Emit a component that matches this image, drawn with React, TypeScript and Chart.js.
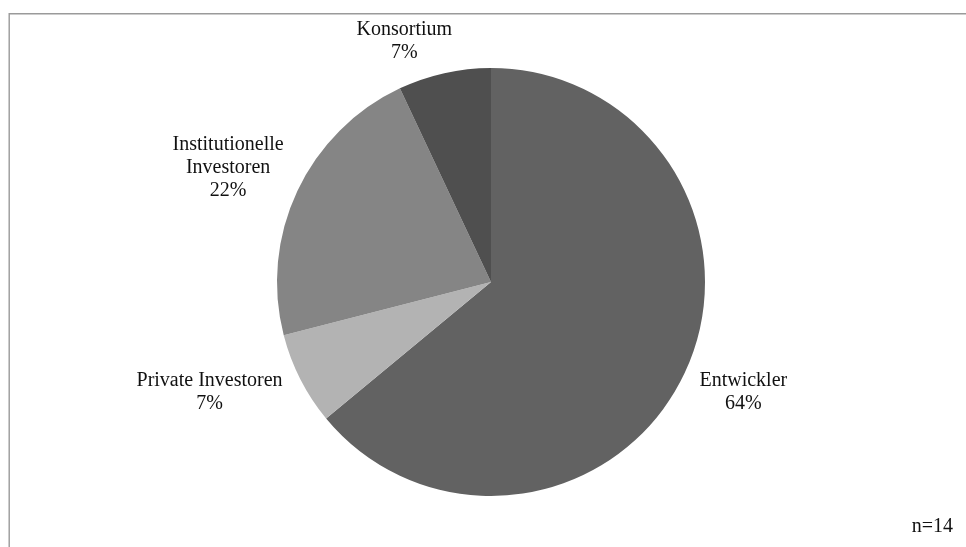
import React, { useEffect, useRef } from "react";
import { Chart, registerables } from "chart.js";

Chart.register(...registerables);

// Who carries the projects (share of respondents, n = 14)
const CATEGORIES: string[][] = [
  ["Entwickler"],
  ["Private Investoren"],
  ["Institutionelle", "Investoren"],
  ["Konsortium"],
];
const SHARES: number[] = [64, 7, 22, 7];
const SAMPLE_NOTE = "n=14";

const SLICE_COLORS = ["#626262", "#b3b3b3", "#858585", "#4f4f4f"];
const FONT = '20px "Liberation Serif", "Times New Roman", serif';
const LINE_HEIGHT = 23;
// Gap of the label block from the pie centre (along the slice bisector)
const LABEL_DISTANCE = 235;
// Small hand adjustments so labels do not crowd the pie
const LABEL_NUDGE: [number, number][] = [
  [0, 0],
  [-7, -7],
  [0, 0],
  [-25, 11],
];

const framePlugin = {
  id: "frame",
  beforeDraw(chart: Chart) {
    const ctx = chart.ctx;
    ctx.save();
    ctx.strokeStyle = "#9a9a9a";
    ctx.lineWidth = 1.4;
    ctx.beginPath();
    ctx.moveTo(9.2, chart.height + 2);
    ctx.lineTo(9.2, 13.8);
    ctx.lineTo(chart.width + 2, 13.8);
    ctx.stroke();
    ctx.restore();
  },
};

const labelPlugin = {
  id: "sliceLabels",
  afterDatasetsDraw(chart: Chart) {
    const ctx = chart.ctx;
    const meta = chart.getDatasetMeta(0);
    ctx.save();
    ctx.font = FONT;
    ctx.fillStyle = "#111";
    ctx.textAlign = "center";
    ctx.textBaseline = "middle";
    meta.data.forEach((el: any, i: number) => {
      const { x, y, startAngle, endAngle } = el.getProps(
        ["x", "y", "startAngle", "endAngle"],
        true
      );
      const mid = (startAngle + endAngle) / 2;
      const lines = [...CATEGORIES[i], `${SHARES[i]}%`];
      const w = Math.max(...lines.map((l) => ctx.measureText(l).width));
      const h = lines.length * LINE_HEIGHT;
      const c = Math.cos(mid);
      const s = Math.sin(mid);
      const cx = x + LABEL_DISTANCE * c + (c * w) / 2 + LABEL_NUDGE[i][0];
      const cy = y + LABEL_DISTANCE * s + (s * h) / 2 + LABEL_NUDGE[i][1];
      lines.forEach((line, k) => {
        ctx.fillText(line, cx, cy + (k - (lines.length - 1) / 2) * LINE_HEIGHT);
      });
    });
    ctx.textAlign = "right";
    ctx.textBaseline = "alphabetic";
    ctx.fillText(SAMPLE_NOTE, chart.width - 13, chart.height - 15);
    ctx.restore();
  },
};

export default function App() {
  const canvasRef = useRef<HTMLCanvasElement | null>(null);

  useEffect(() => {
    if (!canvasRef.current) return;
    const chart = new Chart(canvasRef.current, {
      type: "pie",
      data: {
        labels: CATEGORIES.map((c) => c.join(" ")),
        datasets: [
          {
            data: SHARES,
            backgroundColor: SLICE_COLORS,
            borderWidth: 0,
            hoverOffset: 0,
          },
        ],
      },
      options: {
        responsive: false,
        animation: false,
        events: [],
        layout: { padding: { top: 68, bottom: 51, left: 191, right: 175 } },
        plugins: {
          legend: { display: false },
          tooltip: { enabled: false },
        },
      },
      plugins: [framePlugin, labelPlugin],
    });
    return () => chart.destroy();
  }, []);

  return (
    <div style={{ position: "fixed", left: 0, top: 0, width: 966, height: 547, background: "#fff" }}>
      <canvas ref={canvasRef} width={966} height={547} style={{ display: "block" }} />
    </div>
  );
}
